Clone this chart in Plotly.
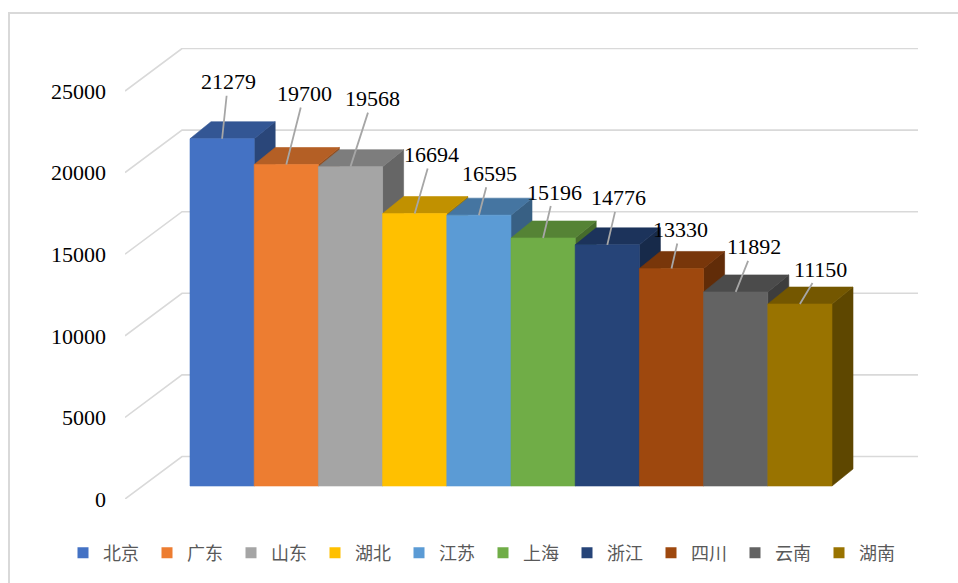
import plotly.graph_objects as go

# ---------------- data ----------------
provinces = ["北京", "广东", "山东", "湖北", "江苏", "上海", "浙江", "四川", "云南", "湖南"]
values = [21279, 19700, 19568, 16694, 16595, 15196, 14776, 13330, 11892, 11150]
colors = ["#4472C4", "#ED7D31", "#A5A5A5", "#FFC000", "#5B9BD5",
          "#70AD47", "#264478", "#9E480E", "#636363", "#997300"]
y_ticks = [0, 5000, 10000, 15000, 20000, 25000]

# label offsets (pixels) of each data label from its bar top, as placed in the original
label_offsets = [(6, -57), (18, -71), (22, -68), (17, -59), (11, -42),
                 (11, -46), (11, -47), (9, -39), (18, -45), (21, -35)]

# ---------------- geometry (pixel layout) ----------------
W, H = 958, 583
PL, PR, PT, PB = 125, 918, 48, 499          # plot area in pixels
BAR_PX = 64.2                               # px per category unit
VPP = 25000 / 408                           # value units per pixel
x0 = -0.5 - (190 - PL) / BAR_PX
x1 = x0 + (PR - PL) / BAR_PX
ytop = (PB - PT) * VPP
WALL_DX = 57 / BAR_PX
WALL_DY = 42.5 * VPP
BAR_BASE = 13 * VPP
BAR_DX = 21 / BAR_PX
BAR_DY = 17 * VPP


def shade(hexc, f):
    h = hexc.lstrip("#")
    r, g, b = (int(h[i:i + 2], 16) for i in (0, 2, 4))
    return "#%02x%02x%02x" % (int(r * f), int(g * f), int(b * f))


fig = go.Figure()

# gridlines (left wall + back wall)
gx, gy = [], []
for t in y_ticks:
    gx += [x0, x0 + WALL_DX, x1, None]
    gy += [t, t + WALL_DY, t + WALL_DY, None]
fig.add_trace(go.Scatter(x=gx, y=gy, mode="lines",
                         line=dict(color="#d9d9d9", width=1.6),
                         hoverinfo="skip", showlegend=False))

# 3D bars
for i, (name, v, c) in enumerate(zip(provinces, values, colors)):
    L, R = i - 0.5, i + 0.5
    b, t = BAR_BASE, BAR_BASE + v
    side_c = shade(c, 0.62)
    top_c = shade(c, 0.76)
    # side face
    fig.add_trace(go.Scatter(
        x=[R, R + BAR_DX, R + BAR_DX, R, R],
        y=[b, b + BAR_DY, t + BAR_DY, t, b],
        fill="toself", fillcolor=side_c, mode="lines",
        line=dict(color=side_c, width=0.6), hoverinfo="skip", showlegend=False))
    # top face
    fig.add_trace(go.Scatter(
        x=[L, R, R + BAR_DX, L + BAR_DX, L],
        y=[t, t, t + BAR_DY, t + BAR_DY, t],
        fill="toself", fillcolor=top_c, mode="lines",
        line=dict(color=top_c, width=0.6), hoverinfo="skip", showlegend=False))
    # front face
    fig.add_trace(go.Scatter(
        x=[L, R, R, L, L],
        y=[b, b, t, t, b],
        fill="toself", fillcolor=c, mode="lines",
        line=dict(color=c, width=0.6), hoverinfo="skip", showlegend=False))

# legend entries
for name, c in zip(provinces, colors):
    fig.add_trace(go.Scatter(x=[None], y=[None], mode="markers", name=name,
                             marker=dict(symbol="square", size=11, color=c)))

# data labels with leader lines
for i, v in enumerate(values):
    ax, ay = label_offsets[i]
    fig.add_annotation(x=i, y=BAR_BASE + v, text=str(v), showarrow=True,
                       arrowhead=0, arrowwidth=1.8, arrowcolor="#a6a6a6",
                       ax=ax, ay=ay, standoff=0,
                       font=dict(family="Liberation Serif", size=22, color="#000000"))

# chart border
fig.add_shape(type="rect", xref="paper", yref="paper",
              x0=(9 - PL) / (PR - PL), x1=(965 - PL) / (PR - PL),
              y0=(PB - 600) / (PB - PT), y1=(PB - 13) / (PB - PT),
              line=dict(color="#d9d9d9", width=2), layer="below")

fig.update_layout(
    width=W, height=H,
    margin=dict(l=PL, r=W - PR, t=PT, b=H - PB, autoexpand=False),
    paper_bgcolor="white", plot_bgcolor="white",
    xaxis=dict(range=[x0, x1], visible=False, fixedrange=True),
    yaxis=dict(range=[0, ytop], tickvals=y_ticks, ticktext=[str(t) for t in y_ticks],
               showgrid=False, zeroline=False, showline=False, ticks="",
               ticklabelstandoff=18, fixedrange=True,
               tickfont=dict(family="Liberation Serif", size=22, color="#000000")),
    legend=dict(orientation="h", xref="paper", x=(63 - PL) / (PR - PL), xanchor="left",
                yref="paper", y=(PB - 553) / (PB - PT), yanchor="middle",
                itemwidth=30, entrywidth=39, entrywidthmode="pixels",
                font=dict(family="Noto Sans CJK SC", size=18, color="#595959")),
    showlegend=True,
)

fig.write_html("out.html", config={"displayModeBar": False},
               post_script="document.body.style.margin='0px';")
